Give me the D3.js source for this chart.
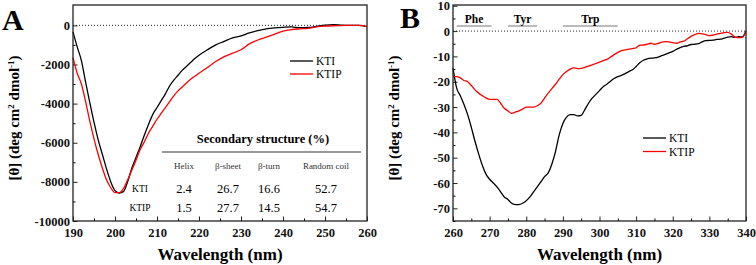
<!DOCTYPE html>
<html>
<head>
<meta charset="utf-8">
<script src="https://cdn.jsdelivr.net/npm/d3@7"></script>
<style>
  body { margin: 0; background: #fff; }
  svg text { font-family: "Liberation Serif", "Times New Roman", serif; }
</style>
</head>
<body>
<svg id="chart"></svg>
<script>
// Set up the figure dimensions
const width = 756;
const height = 265;

// Panel A data: far-UV CD
const wlA = [190,191,192,193,194,195,196,197,198,199,200,201,202,203,204,205,206,207,208,209,
  210,211,212,213,214,215,216,217,218,219,220,222,224,226,228,230,232,234,236,238,240,242,244,246,248,250,252,254,256,258,260];
const ktiA = [-330,-1100,-1800,-2900,-3950,-4950,-5850,-6600,-7350,-8000,-8450,-8570,-8500,-8000,-7300,-6750,-6200,-5600,-5050,-4550,
  -4200,-3850,-3500,-3100,-2800,-2550,-2300,-2100,-1900,-1700,-1530,-1250,-1000,-820,-640,-540,-380,-270,-180,-130,-100,-80,-120,-110,-50,10,40,10,0,0,-60];
const ktipA = [-1650,-2450,-3000,-3900,-4900,-5800,-6600,-7300,-7900,-8300,-8550,-8550,-8350,-7900,-7400,-6900,-6350,-5950,-5500,-5150,
  -4800,-4500,-4200,-3900,-3600,-3350,-3150,-2950,-2750,-2600,-2450,-2150,-1850,-1600,-1420,-1250,-950,-750,-600,-450,-300,-220,-180,-150,-80,-40,-20,-10,0,0,-60];

// Secondary structure table
const tableHeaders = ["Helix", "\u03b2-sheet", "\u03b2-turn", "Random coil"];
const tableSamples = ["KTI", "KTIP"];
const tableRows = [[2.4, 26.7, 16.6, 52.7], [1.5, 27.7, 14.5, 54.7]];

// Panel B data: near-UV CD
const wlB = d3.range(260, 341);
const ktiB = [-14.6,-22.5,-25.5,-29,-33,-38,-43.5,-48.5,-53,-56.5,-58.5,-60,-61.5,-63.5,-65.5,-66.5,-68,-68.5,-68.5,-68,
  -67,-65.5,-63.5,-61.5,-59.5,-57.5,-56,-52.5,-47.5,-41,-36.5,-34,-33,-33,-33.5,-33.3,-31,-28.5,-26.5,-25,
  -23.5,-22,-21,-19.8,-18.7,-18,-17.5,-16.8,-16,-15.3,-14,-12.5,-11.5,-11,-10.7,-10.6,-10.3,-9.7,-9.2,-8.6,
  -8,-7.2,-6.5,-6,-5.8,-5.3,-5.2,-5,-4.3,-3.8,-3.7,-3.6,-3.3,-3.2,-2.8,-2.4,-2.2,-2.5,-2.2,-2.3,0];
const ktipB = [-18,-18,-18.5,-19.5,-20,-21.5,-23.2,-24.5,-25.5,-26.4,-27,-27,-27,-28.5,-30.5,-31.5,-32.5,-32,-31.5,-30.8,
  -30,-30,-30,-29.5,-28.5,-26.5,-24.5,-22.7,-21,-19,-17.2,-16,-15,-14.5,-14.8,-14.7,-14.3,-13.8,-13.3,-12.8,
  -12.3,-11.7,-11.2,-10.3,-9.3,-8.4,-7.7,-7.4,-7.1,-6.9,-6.6,-5.6,-5.5,-5.2,-4.8,-5.2,-4.9,-4.4,-4.2,-4.3,
  -4.6,-4.8,-4.3,-4,-3,-2.1,-1.4,-0.9,-1.1,-1.4,-1.8,-1.6,-1.2,-0.9,-0.6,-0.5,-1.2,-2.4,-2.6,-2.5,0];
const bandNames = ["Phe", "Tyr", "Trp"];
const bandStart = [261, 275, 290];
const bandEnd = [270.5, 283, 305];

const seriesNames = ["KTI", "KTIP"];
const seriesColors = ["#000000", "#ff0000"];

const svg = d3.select("#chart")
  .attr("width", width)
  .attr("height", height);

// Draw one CD panel
function drawPanel(opts) {
  const g = svg.append("g");
  const x = d3.scaleLinear().domain(opts.xDomain).range([opts.left, opts.right]);
  const y = d3.scaleLinear().domain(opts.yDomain).range([opts.bottom, opts.top]);

  // minor ticks
  g.append("g")
    .attr("transform", `translate(0,${opts.bottom})`)
    .call(d3.axisBottom(x).tickValues(opts.xMinor).tickSize(-2.5).tickFormat(""))
    .call(a => a.select(".domain").remove());
  g.append("g")
    .attr("transform", `translate(${opts.left},0)`)
    .call(d3.axisLeft(y).tickValues(opts.yMinor).tickSize(-2.5).tickFormat(""))
    .call(a => a.select(".domain").remove());

  // major ticks
  const xAxis = g.append("g")
    .attr("transform", `translate(0,${opts.bottom})`)
    .call(d3.axisBottom(x).tickValues(opts.xTicks).tickSizeInner(-4.5).tickSizeOuter(0).tickPadding(7));
  const yAxis = g.append("g")
    .attr("transform", `translate(${opts.left},0)`)
    .call(d3.axisLeft(y).tickValues(opts.yTicks).tickSizeInner(-4.5).tickSizeOuter(0).tickPadding(3)
      .tickFormat(d => d < 0 ? "-" + Math.abs(d) : d));
  [xAxis, yAxis].forEach(a => {
    a.selectAll("text").attr("font-size", 12.5).attr("font-weight", "bold").attr("fill", "#111")
      .style("font-family", "'Liberation Serif', serif");
    a.selectAll("line").attr("stroke", "#222");
    a.select(".domain").remove();
  });
  g.selectAll(".tick line").attr("stroke-width", 1);

  // zero line
  g.append("line")
    .attr("x1", opts.left).attr("x2", opts.right)
    .attr("y1", y(0)).attr("y2", y(0))
    .attr("stroke", "#222").attr("stroke-width", 1)
    .attr("stroke-dasharray", "1,2");

  // curves
  const line = d3.line()
    .x((d, i) => x(opts.wl[i]))
    .y(d => y(d))
    .curve(d3.curveMonotoneX);
  opts.series.forEach((s, i) => {
    g.append("path")
      .datum(s)
      .attr("fill", "none")
      .attr("stroke", seriesColors[i])
      .attr("stroke-width", 1.3)
      .attr("d", line);
  });

  // frame
  g.append("rect")
    .attr("x", opts.left).attr("y", opts.top)
    .attr("width", opts.right - opts.left).attr("height", opts.bottom - opts.top)
    .attr("fill", "none").attr("stroke", "#222").attr("stroke-width", 1.3);

  // legend
  seriesNames.forEach((name, i) => {
    const ly = opts.legendY + i * opts.legendGap;
    g.append("line")
      .attr("x1", opts.legendX).attr("x2", opts.legendX + 23)
      .attr("y1", ly).attr("y2", ly)
      .attr("stroke", seriesColors[i]).attr("stroke-width", 1.3);
    g.append("text")
      .attr("x", opts.legendX + 26).attr("y", ly + 4)
      .attr("font-size", 11.5)
      .text(name);
  });

  // axis titles
  g.append("text")
    .attr("x", (opts.left + opts.right) / 2).attr("y", 260)
    .attr("text-anchor", "middle")
    .attr("font-size", 17).attr("font-weight", "bold")
    .text("Wavelength (nm)");
  const yl = g.append("text")
    .attr("transform", `translate(${opts.left - 54},118) rotate(-90)`)
    .attr("text-anchor", "middle")
    .attr("font-size", 15).attr("font-weight", "bold");
  yl.append("tspan").text("[\u03b8] (deg cm");
  yl.append("tspan").attr("dy", -5).attr("font-size", 9).text("2");
  yl.append("tspan").attr("dy", 5).text(" dmol");
  yl.append("tspan").attr("dy", -5).attr("font-size", 9).text("-1");
  yl.append("tspan").attr("dy", 5).text(")");

  // panel letter
  g.append("text")
    .attr("x", opts.letterX).attr("y", opts.letterY)
    .attr("font-size", 30).attr("font-weight", "bold")
    .text(opts.letter);

  return {g, x, y};
}

const pA = drawPanel({
  left: 73, right: 367, top: 5, bottom: 221,
  xDomain: [190, 260], yDomain: [-10000, 1040],
  xTicks: d3.range(190, 261, 10), xMinor: d3.range(195, 260, 10),
  yTicks: d3.range(-10000, 1, 2000), yMinor: d3.range(-9000, 1000, 2000),
  wl: wlA, series: [ktiA, ktipA],
  legendX: 290, legendY: 61, legendGap: 13,
  letter: "A", letterX: 2, letterY: 30
});

const pB = drawPanel({
  left: 453, right: 746, top: 5, bottom: 221,
  xDomain: [260, 340], yDomain: [-75, 10.3],
  xTicks: d3.range(260, 341, 10), xMinor: d3.range(265, 340, 10),
  yTicks: d3.range(-70, 11, 10), yMinor: d3.range(-75, 10, 10),
  wl: wlB, series: [ktiB, ktipB],
  legendX: 643, legendY: 138, legendGap: 13.5,
  letter: "B", letterX: 400, letterY: 28
});

// Secondary structure table inside panel A
const colX = [184, 228, 269, 326];
pA.g.append("text")
  .attr("x", 263).attr("y", 143)
  .attr("text-anchor", "middle")
  .attr("font-size", 12.5).attr("font-weight", "bold")
  .text("Secondary structure (%)");
pA.g.append("line")
  .attr("x1", 162).attr("x2", 361).attr("y1", 152).attr("y2", 152)
  .attr("stroke", "#777").attr("stroke-width", 1.5);
tableHeaders.forEach((h, i) => {
  pA.g.append("text")
    .attr("x", colX[i]).attr("y", 169)
    .attr("text-anchor", "middle")
    .attr("font-size", 9).attr("fill", "#333")
    .text(h);
});
tableRows.forEach((row, r) => {
  const ry = 193 + r * 18.5;
  pA.g.append("text")
    .attr("x", 140).attr("y", ry - 1)
    .attr("text-anchor", "middle")
    .attr("font-size", 9.5)
    .text(tableSamples[r]);
  row.forEach((v, i) => {
    pA.g.append("text")
      .attr("x", colX[i]).attr("y", ry)
      .attr("text-anchor", "middle")
      .attr("font-size", 12.5)
      .text(v.toFixed(1));
  });
});

// Aromatic band markers in panel B
bandNames.forEach((name, i) => {
  const x1 = pB.x(bandStart[i]), x2 = pB.x(bandEnd[i]);
  pB.g.append("line")
    .attr("x1", x1).attr("x2", x2).attr("y1", 26).attr("y2", 26)
    .attr("stroke", "#777").attr("stroke-width", 1);
  pB.g.append("text")
    .attr("x", (x1 + x2) / 2).attr("y", 22.5)
    .attr("text-anchor", "middle")
    .attr("font-size", 11.5).attr("font-weight", "bold")
    .text(name);
});
</script>
</body>
</html>
